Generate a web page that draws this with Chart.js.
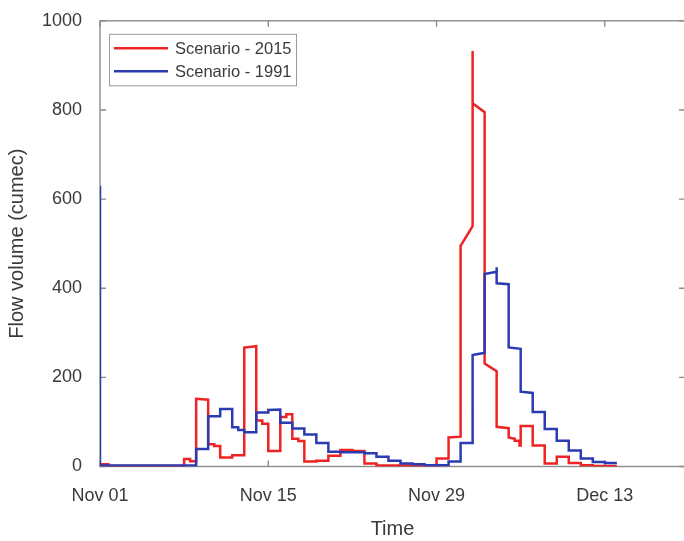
<!DOCTYPE html>
<html><head><meta charset="utf-8">
<script src="https://cdn.jsdelivr.net/npm/chart.js@4.4.0/dist/chart.umd.min.js"></script>
<style>
html,body{margin:0;padding:0;background:#fff;overflow:hidden;}
#wrap{width:690px;height:541px;position:relative;}
canvas{display:block;}
</style></head><body>
<div id="wrap"><canvas id="c" width="690" height="541"></canvas></div>
<script>
// ---- data (days since Nov 01, flow in cumec) ----
const seriesLabels = ['Scenario - 2015', 'Scenario - 1991'];
const tickDays = [0, 14, 28, 42];
const tickLabels = ['Nov 01', 'Nov 15', 'Nov 29', 'Dec 13'];
const yTicks = [0, 200, 400, 600, 800, 1000];

const redDays = [0,0.7,0.7,7,7,7.5,7.5,8,8,9,9,9.5,9.5,10,10,11,11,12,12,13,13,13.5,13.5,14,14,15,15,15.5,15.5,16,16,16.5,16.5,17,17,18,18,19,19,20,20,21,21,22,22,23,23,28,28,29,29,30,30,31,31,31,32,32,33,33,34,34,34.5,34.5,34.9,34.9,35,35,36,36,37,37,38,38,39,39,40,40,41,41,43];
const redFlow = [5,5,1,1,17,17,12,12,152,150,50,50,46,46,20,20,25,25,267,270,103,103,96,96,35,35,111,111,117,117,62,62,57,57,11,11,13,13,24,24,37,37,35,35,7,7,2,2,18,18,65,67,495,539,932,815,795,231,214,89,86,65,62,58,58,47,47,91,91,47,47,7,7,22,22,8,8,3,3,1,1];

const blueDays = [0,0,8,8,9,9,10,10,11,11,11.5,11.5,12,12,13,13,14,14,15,15,16,16,17,17,18,18,19,19,20,20,22,22,23,23,24,24,25,25,26,26,27,27,29,29,30,30,31,31,32,32,33,33,33,34,34,35,35,36,36,37,37,38,38,39,39,40,40,41,41,42,42,43];
const blueFlow = [630,2,2,39,39,113,113,129,129,88,88,82,82,77,77,121,121,127,128,98,98,85,85,72,72,53,53,33,33,32,32,30,30,22,22,13,13,7,7,5,5,3,3,11,11,53,53,250,255,432,437,447,411,409,267,264,168,165,122,122,84,84,58,58,36,36,18,18,10,10,8,8];

const RED = '#ee2424';
const BLUE = '#2b3cb2';
const AXIS = '#8c8c8c';
const TEXT = '#3a3a3a';
const FONT = "'Liberation Sans', Arial, sans-serif";

Chart.defaults.font.family = FONT;
Chart.defaults.color = TEXT;

const toPts = (xs, ys) => xs.map((x, i) => ({x: x, y: ys[i]}));

const framePlugin = {
  id: 'frame',
  beforeDatasetsDraw(chart) {
    const {ctx, chartArea: a, scales: {x, y}} = chart;
    ctx.save();
    ctx.strokeStyle = AXIS;
    ctx.lineWidth = 1.4;
    ctx.strokeRect(a.left, a.top, a.right - a.left, a.bottom - a.top);
    const L = 6;
    ctx.beginPath();
    x.ticks.forEach(t => {
      const px = x.getPixelForValue(t.value);
      ctx.moveTo(px, a.bottom); ctx.lineTo(px, a.bottom - L);
      ctx.moveTo(px, a.top); ctx.lineTo(px, a.top + L);
    });
    y.ticks.forEach(t => {
      const py = y.getPixelForValue(t.value);
      ctx.moveTo(a.left, py); ctx.lineTo(a.left + L, py);
      ctx.moveTo(a.right, py); ctx.lineTo(a.right - L, py);
    });
    ctx.stroke();
    ctx.restore();
  }
};

const legendPlugin = {
  id: 'boxLegend',
  afterDatasetsDraw(chart) {
    const {ctx, chartArea: a} = chart;
    const bx = a.left + 9, by = a.top + 13, bw = 187, bh = 51.5;
    ctx.save();
    ctx.fillStyle = '#fff';
    ctx.fillRect(bx, by, bw, bh);
    ctx.strokeStyle = '#9a9a9a';
    ctx.lineWidth = 1;
    ctx.strokeRect(bx + 0.5, by + 0.5, bw, bh);
    ctx.font = '16.5px ' + FONT;
    ctx.textBaseline = 'middle';
    chart.data.datasets.forEach((ds, i) => {
      const ly = by + 14.5 + i * 23;
      ctx.strokeStyle = ds.borderColor;
      ctx.lineWidth = 2.5;
      ctx.beginPath();
      ctx.moveTo(bx + 5, ly); ctx.lineTo(bx + 59, ly);
      ctx.stroke();
      ctx.fillStyle = TEXT;
      ctx.fillText(ds.label, bx + 66, ly + 1);
    });
    ctx.restore();
  }
};

new Chart(document.getElementById('c'), {
  type: 'line',
  data: {
    datasets: [
      {label: seriesLabels[0], data: toPts(redDays, redFlow), borderColor: RED, backgroundColor: RED,
       borderWidth: 2.5, pointRadius: 0, tension: 0, fill: false, order: 1},
      {label: seriesLabels[1], data: toPts(blueDays, blueFlow), borderColor: BLUE, backgroundColor: BLUE,
       borderWidth: 2.5, pointRadius: 0, tension: 0, fill: false, order: 0}
    ]
  },
  options: {
    responsive: false,
    animation: false,
    events: [],
    layout: {padding: {top: 12, right: 5, left: 0, bottom: 0}},
    plugins: {legend: {display: false}, tooltip: {enabled: false}},
    scales: {
      x: {
        type: 'linear', min: 0, max: 48.67,
        grid: {display: false}, border: {display: false},
        afterBuildTicks: s => { s.ticks = tickDays.map(v => ({value: v})); },
        ticks: {
          callback: (v, i) => tickLabels[i],
          maxRotation: 0, autoSkip: false, padding: 11,
          font: {size: 18}, color: TEXT
        },
        title: {display: true, text: 'Time', font: {size: 20}, color: TEXT, padding: {top: 7, bottom: 0}},
        afterFit: s => { s.height = 74.5; }
      },
      y: {
        type: 'linear', min: 0, max: 1000,
        grid: {display: false}, border: {display: false},
        afterBuildTicks: s => { s.ticks = yTicks.map(v => ({value: v})); },
        ticks: {
          callback: (v) => String(v),
          padding: 10, font: {size: 18}, color: TEXT
        },
        title: {display: true, text: 'Flow volume (cumec)', font: {size: 20}, color: TEXT, padding: {top: 5.5, bottom: 0}},
        afterFit: s => { s.width = 100; }
      }
    }
  },
  plugins: [framePlugin, legendPlugin]
});
</script>
</body></html>
